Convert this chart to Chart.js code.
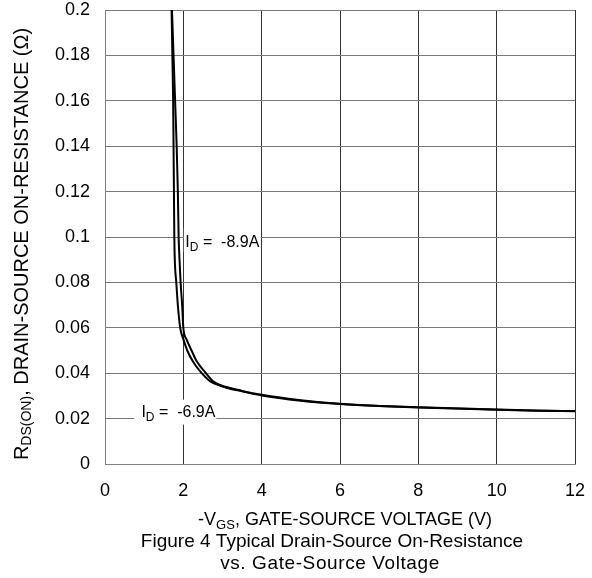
<!DOCTYPE html>
<html>
<head>
<meta charset="utf-8">
<script src="https://cdn.jsdelivr.net/npm/chart.js@4"></script>
<style>
body { margin: 0; background: #fff; }
</style>
</head>
<body>
<canvas id="rdsChart" width="592" height="578"></canvas>
<script>
// Values: -VGS (V) against RDS(on) (ohm)
var vgsLow = [1.70, 1.72, 1.74, 1.75, 1.76, 1.77, 1.78, 1.82, 1.86, 1.92, 2.00, 2.10, 2.25, 2.42, 2.68, 2.94, 3.5, 4, 5, 6, 7, 8, 9, 10, 11, 12];
var rdsLow = [0.200, 0.180, 0.160, 0.140, 0.120, 0.100, 0.091, 0.080, 0.070, 0.060, 0.055, 0.050, 0.045, 0.041, 0.0365, 0.0345, 0.032, 0.0302, 0.0279, 0.0264, 0.0255, 0.0249, 0.0244, 0.0239, 0.0235, 0.0232];

var vgsHigh = [1.71, 1.75, 1.79, 1.83, 1.86, 1.88, 1.90, 1.93, 1.97, 2.00, 2.08, 2.21, 2.35, 2.53, 2.76, 2.94, 3.5, 4, 5, 6, 7, 8, 9, 10, 11, 12];
var rdsHigh = [0.200, 0.180, 0.160, 0.140, 0.120, 0.100, 0.091, 0.080, 0.070, 0.060, 0.055, 0.050, 0.045, 0.041, 0.0365, 0.0348, 0.0322, 0.0305, 0.0281, 0.0265, 0.0256, 0.0250, 0.0245, 0.0240, 0.0236, 0.0233];

var xTicks = [0, 2, 4, 6, 8, 10, 12];
var yTicks = [0, 0.02, 0.04, 0.06, 0.08, 0.1, 0.12, 0.14, 0.16, 0.18, 0.2];
var yTickLabels = ['0', '0.02', '0.04', '0.06', '0.08', '0.1', '0.12', '0.14', '0.16', '0.18', '0.2'];

var FONT = '"Liberation Sans", Arial, sans-serif';

function toPoints(xs, ys) {
    var pts = [];
    for (var i = 0; i < xs.length; i++) {
        pts.push({ x: xs[i], y: ys[i] });
    }
    return pts;
}

// draws a run of text pieces, some of them as subscripts
function drawParts(ctx, x, y, parts) {
    var cx = x;
    parts.forEach(function (p) {
        ctx.font = p.size + 'px ' + FONT;
        ctx.fillText(p.t, cx, y + (p.dy || 0));
        cx += ctx.measureText(p.t).width;
    });
    return cx - x;
}

function partsWidth(ctx, parts) {
    var w = 0;
    parts.forEach(function (p) {
        ctx.font = p.size + 'px ' + FONT;
        w += ctx.measureText(p.t).width;
    });
    return w;
}

// curve labels with white boxes behind them
var curveLabels = {
    id: 'curveLabels',
    beforeDatasetsDraw: function (chart) {
        var ctx = chart.ctx;
        var xs = chart.scales.x, ys = chart.scales.y;
        ctx.save();
        ctx.textBaseline = 'alphabetic';
        ctx.textAlign = 'left';

        var x1 = xs.getPixelForValue(2), y1 = ys.getPixelForValue(0.1);
        ctx.fillStyle = '#fff';
        ctx.fillRect(x1 + 0.5, y1 - 9, 77, 24);
        ctx.fillStyle = '#000';
        drawParts(ctx, x1 + 2, y1 + 10, [
            { t: 'I', size: 16 }, { t: 'D', size: 12, dy: 4 }, { t: ' =  -8.9A', size: 16 }
        ]);

        var x2 = xs.getPixelForValue(0.75), y2 = ys.getPixelForValue(0.02);
        ctx.fillStyle = '#fff';
        ctx.fillRect(x2, y2 - 19, 82, 25);
        ctx.fillStyle = '#000';
        drawParts(ctx, x2 + 7, y2 - 2, [
            { t: 'I', size: 16 }, { t: 'D', size: 12, dy: 4 }, { t: ' =  -6.9A', size: 16 }
        ]);
        ctx.restore();
    }
};

// axis titles and figure caption
var axisText = {
    id: 'axisText',
    afterDraw: function (chart) {
        var ctx = chart.ctx;
        ctx.save();
        ctx.fillStyle = '#000';
        ctx.textBaseline = 'middle';

        var yParts = [
            { t: 'R', size: 20 }, { t: 'DS(ON)', size: 14, dy: 5 },
            { t: ', DRAIN-SOURCE ON-RESISTANCE (\u03A9)', size: 20 }
        ];
        var yw = partsWidth(ctx, yParts);
        ctx.translate(22, 244);
        ctx.rotate(-Math.PI / 2);
        drawParts(ctx, -yw / 2, 0, yParts);
        ctx.setTransform(1, 0, 0, 1, 0, 0);

        var xParts = [
            { t: '-V', size: 18 }, { t: 'GS', size: 13, dy: 5 },
            { t: ', GATE-SOURCE VOLTAGE (V)', size: 18 }
        ];
        var xw = partsWidth(ctx, xParts);
        drawParts(ctx, 345 - xw / 2, 520, xParts);

        ctx.textAlign = 'center';
        ctx.font = '19px ' + FONT;
        ctx.fillText('Figure 4 Typical Drain-Source On-Resistance', 332, 542);
        ctx.letterSpacing = '0.6px';
        ctx.fillText('vs. Gate-Source Voltage', 330, 564);
        ctx.restore();
    }
};

var ctx = document.getElementById('rdsChart').getContext('2d');
var rdsChart = new Chart(ctx, {
    type: 'line',
    data: {
        datasets: [{
            label: 'ID = -6.9A',
            data: toPoints(vgsLow, rdsLow),
            borderColor: '#000',
            borderWidth: 2,
            pointRadius: 0,
            cubicInterpolationMode: 'monotone',
            fill: false
        }, {
            label: 'ID = -8.9A',
            data: toPoints(vgsHigh, rdsHigh),
            borderColor: '#000',
            borderWidth: 2,
            pointRadius: 0,
            cubicInterpolationMode: 'monotone',
            fill: false
        }]
    },
    options: {
        responsive: false,
        animation: false,
        layout: { padding: { top: 10, right: 17, left: 0, bottom: 0 } },
        plugins: {
            legend: { display: false },
            tooltip: { enabled: false }
        },
        scales: {
            x: {
                type: 'linear',
                min: 0,
                max: 12,
                afterBuildTicks: function (scale) {
                    scale.ticks = xTicks.map(function (v) { return { value: v }; });
                },
                afterFit: function (scale) {
                    scale.height = 114;
                    scale.paddingLeft = 0;
                    scale.paddingRight = 0;
                },
                ticks: {
                    padding: 16,
                    color: '#000',
                    font: { family: FONT, size: 18 },
                    callback: function (v) { return String(v); }
                },
                grid: { color: '#333', drawTicks: false },
                border: { color: '#808080', width: 1 }
            },
            y: {
                type: 'linear',
                min: 0,
                max: 0.2,
                afterBuildTicks: function (scale) {
                    scale.ticks = yTicks.map(function (v) { return { value: v }; });
                },
                afterFit: function (scale) {
                    scale.width = 105;
                    scale.paddingTop = 0;
                    scale.paddingBottom = 0;
                },
                ticks: {
                    padding: 15,
                    color: '#000',
                    font: { family: FONT, size: 18 },
                    callback: function (v, i) { return yTickLabels[i]; }
                },
                grid: { color: '#7a7a7a', drawTicks: false },
                border: { color: '#808080', width: 1 }
            }
        }
    },
    plugins: [curveLabels, axisText]
});
</script>
</body>
</html>
